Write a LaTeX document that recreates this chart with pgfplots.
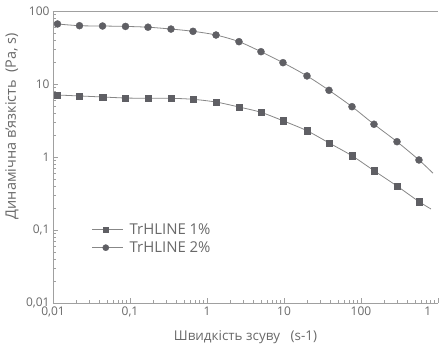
\documentclass[border=0pt]{standalone}
\usepackage{pgfplots}
\pgfplotsset{compat=1.18}
\usepackage{fontspec}
\setmainfont{Open Sans}
\definecolor{axisgray}{RGB}{160,160,160}
\definecolor{linegray}{RGB}{135,135,135}
\definecolor{markgray}{RGB}{95,95,100}
\definecolor{textgray}{RGB}{105,105,105}
\begin{document}
\begin{tikzpicture}
\begin{axis}[
  scale only axis, width=385bp, height=292bp,
  xmode=log, ymode=log,
  xmin=0.01, xmax=1000, ymin=0.01, ymax=100,
  axis x line=box, axis y line=left,
  axis line style={-, draw=axisgray, line width=0.8pt},
  xtick pos=left, ytick pos=left,
  tick align=inside,
  tick style={axisgray, line width=0.6pt},
  major tick length=5bp, minor tick length=3bp,
  xtick={0.01,0.1,1,10,100,1000},
  xticklabels={{0,01},{0,1},1,10,100,{\rlap{1}\phantom{1000}}},
  ytick={0.01,0.1,1,10,100},
  yticklabels={{0,01},{0,1},1,10,100},
  minor xtick={0.02,0.03,0.04,0.05,0.06,0.07,0.08,0.09,0.2,0.3,0.4,0.5,0.6,0.7,0.8,0.9,2,3,4,5,6,7,8,9,20,30,40,50,60,70,80,90,200,300,400,500,600,700,800,900},
  minor ytick={0.02,0.03,0.04,0.05,0.06,0.07,0.08,0.09,0.2,0.3,0.4,0.5,0.6,0.7,0.8,0.9,2,3,4,5,6,7,8,9,20,30,40,50,60,70,80,90},
  ticklabel style={font=\fontsize{12}{12}\selectfont, text=textgray},
  xlabel={Швидкість зсуву\ \ \ (s-1)},
  ylabel={Динамічна в'язкість\ \ (Pa, s)},
  every axis x label/.style={at={(rel axis cs:0.5,-0.1164)}, anchor=center, font=\fontsize{13.5}{14}\selectfont, text=textgray},
  every axis y label/.style={at={(rel axis cs:-0.1065,0.606)}, rotate=90, anchor=center, font=\fontsize{14.5}{15}\selectfont, text=textgray},
  legend style={draw=none, fill=none, at={(rel axis cs:0.101,0.279)}, anchor=north west, font=\fontsize{15}{16}\selectfont, text=textgray, row sep=1.5bp, inner sep=0pt, cells={anchor=west}},
  legend cell align=left,
]
\addplot[linegray, line width=0.8pt, smooth, forget plot] coordinates {
(0.01144,7.07) (0.02208,6.86) (0.0440,6.64) (0.0874,6.43) (0.1713,6.37) (0.3407,6.37) (0.658,6.17) (1.309,5.66) (2.603,4.84) (5.027,4.09) (9.70,3.14) (19.89,2.29) (38.4,1.56) (76.4,1.04) (147.5,0.65) (293.5,0.40) (566,0.245) (811,0.194)
};
\addplot[linegray, only marks, mark=square*, mark size=3.2bp, mark options={draw=markgray, fill=markgray},
  legend image code/.code={\draw[linegray, line width=0.8pt] (0bp,0bp) -- (31bp,0bp); \fill[markgray] (10.5bp,-2.8bp) rectangle (16.1bp,2.8bp); \path (35bp,0bp);}] coordinates {
(0.01144,7.07) (0.02208,6.86) (0.0440,6.64) (0.0874,6.43) (0.1713,6.37) (0.3407,6.37) (0.658,6.17) (1.309,5.66) (2.603,4.84) (5.027,4.09) (9.70,3.14) (19.89,2.29) (38.4,1.56) (76.4,1.04) (147.5,0.65) (293.5,0.40) (566,0.245)
};
\addlegendentry{TrHLINE 1\%}
\addplot[linegray, line width=0.8pt, smooth, forget plot] coordinates {
(0.01144,66.4) (0.02208,62.9) (0.0440,62.3) (0.0874,61.5) (0.1713,60.0) (0.3407,56.6) (0.658,52.7) (1.309,46.9) (2.603,38.0) (5.027,27.7) (9.70,19.6) (19.89,12.9) (38.4,8.2) (76.4,4.89) (147.5,2.81) (293.5,1.62) (566,0.91) (861,0.60)
};
\addplot[linegray, only marks, mark=*, mark size=3.5bp, mark options={draw=markgray, fill=markgray},
  legend image code/.code={\draw[linegray, line width=0.8pt] (0bp,0bp) -- (31bp,0bp); \fill[markgray] (13.3bp,0bp) circle (3.1bp); \path (35bp,0bp);}] coordinates {
(0.01144,66.4) (0.02208,62.9) (0.0440,62.3) (0.0874,61.5) (0.1713,60.0) (0.3407,56.6) (0.658,52.7) (1.309,46.9) (2.603,38.0) (5.027,27.7) (9.70,19.6) (19.89,12.9) (38.4,8.2) (76.4,4.89) (147.5,2.81) (293.5,1.62) (566,0.91)
};
\addlegendentry{TrHLINE 2\%}
\end{axis}
\pgfresetboundingbox
\path[use as bounding box] ([xshift=-53bp,yshift=-45bp]current axis.south west) rectangle ([xshift=8bp,yshift=11bp]current axis.north east);
\end{tikzpicture}
\end{document}
